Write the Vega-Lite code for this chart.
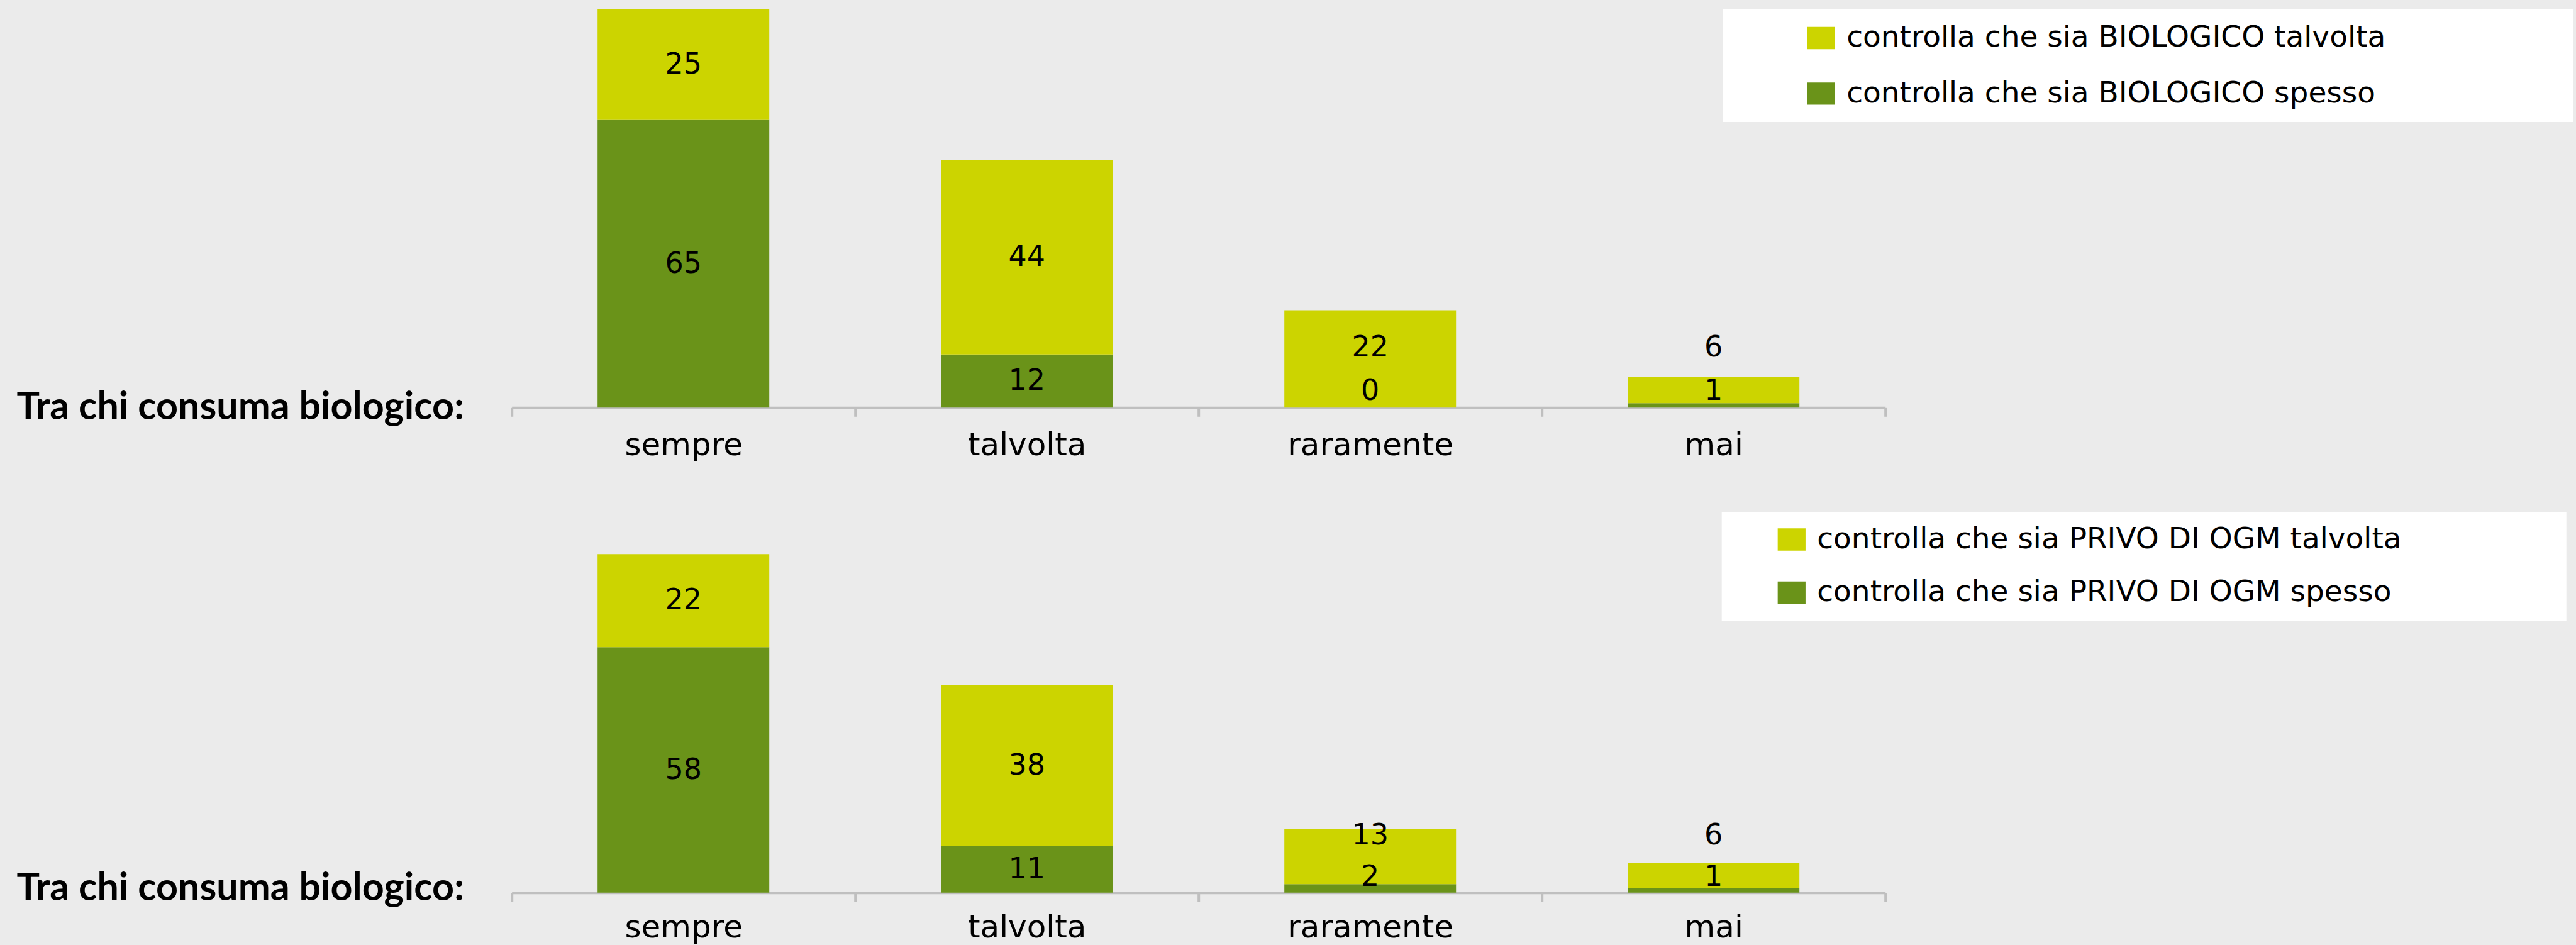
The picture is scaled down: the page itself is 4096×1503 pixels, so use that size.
{
  "$schema": "https://vega.github.io/schema/vega-lite/v6.json",
  "background": "#EBEBEB",
  "padding": {"left": 25.7, "top": 14.9, "right": 20, "bottom": 2},
  "bounds": "flush",
  "spacing": 232.4,
  "config": {
    "view": {"stroke": null},
    "axisX": {
      "title": null, "labelAngle": 0, "domainColor": "#BFBFBF", "domainWidth": 4,
      "tickColor": "#BFBFBF", "tickWidth": 4, "tickSize": 14, "tickBand": "extent",
      "labelFont": "DejaVu Sans", "labelFontSize": 50, "labelColor": "#000000", "labelLimit": 1000,
      "labelBaseline": "alphabetic", "grid": false, "zindex": 1
    },
    "legend": {
      "orient": "none", "title": null, "fillColor": "#FFFFFF",
      "labelFont": "DejaVu Sans", "labelFontSize": 47, "labelColor": "#000000",
      "labelLimit": 3000, "labelOffset": 17,
      "symbolType": "M-1.25,-1L1.25,-1L1.25,1L-1.25,1Z", "symbolSize": 1253,
      "symbolStrokeWidth": 0, "symbolOpacity": 1
    }
  },
  "resolve": {"scale": {"color": "independent", "y": "independent"}, "legend": {"color": "independent"}},
  "vconcat": [
    {
      "width": 2184, "height": 633.4,
      "data": {"values": [
        {"cat": "sempre", "series": "controlla che sia BIOLOGICO spesso", "value": 65},
        {"cat": "sempre", "series": "controlla che sia BIOLOGICO talvolta", "value": 25},
        {"cat": "talvolta", "series": "controlla che sia BIOLOGICO spesso", "value": 12},
        {"cat": "talvolta", "series": "controlla che sia BIOLOGICO talvolta", "value": 44},
        {"cat": "raramente", "series": "controlla che sia BIOLOGICO spesso", "value": 0},
        {"cat": "raramente", "series": "controlla che sia BIOLOGICO talvolta", "value": 22},
        {"cat": "mai", "series": "controlla che sia BIOLOGICO spesso", "value": 1},
        {"cat": "mai", "series": "controlla che sia BIOLOGICO talvolta", "value": 6}
      ]},
      "transform": [
        {"calculate": "indexof(datum.series, 'spesso') >= 0 ? datum.value : 0", "as": "sp"},
        {"joinaggregate": [{"op": "sum", "field": "sp", "as": "spv"}], "groupby": ["cat"]},
        {"calculate": "indexof(datum.series, 'spesso') >= 0 ? max(datum.value / 2, 3.7) : max(datum.spv + datum.value / 2, max(datum.spv / 2, 3.7) + 9.8)", "as": "lab"}
      ],
      "encoding": {
        "x": {"field": "cat", "type": "nominal", "sort": ["sempre", "talvolta", "raramente", "mai"],
              "scale": {"paddingInner": 0, "paddingOuter": 0},
              "axis": {"labelPadding": 61}}
      },
      "layer": [
        {
          "mark": {"type": "bar", "strokeWidth": 0, "width": {"band": 0.5}},
          "encoding": {
            "y": {"field": "value", "type": "quantitative", "stack": "zero",
                  "scale": {"domain": [0, 90], "nice": false},
                  "axis": {"title": "Tra chi consuma biologico:", "titleAngle": 0, "titleAlign": "left",
                           "titleBaseline": "alphabetic", "titleX": -787.7, "titleY": 652,
                           "titleFont": "Lato", "titleFontWeight": "bold", "titleFontSize": 61,
                           "titleColor": "#000000", "titleLimit": 3000,
                           "labels": false, "ticks": false, "domain": false, "grid": false}},
            "color": {"field": "series", "type": "nominal",
                      "scale": {"domain": ["controlla che sia BIOLOGICO talvolta", "controlla che sia BIOLOGICO spesso"],
                                "range": ["#CCD400", "#6A9319"]},
                      "legend": {"legendX": 1926, "legendY": 0.1, "padding": 22, "rowPadding": 40.4,
                                 "symbolOffset": 110.5,
                                 "labelExpr": "datum.label + '\u2800\u2800\u2800\u2800\u2800\u2800\u2800\u2800'"}},
            "order": {"field": "series", "sort": "ascending"}
          }
        },
        {
          "mark": {"type": "text", "font": "DejaVu Sans", "fontSize": 46, "color": "#000000", "baseline": "middle", "align": "center"},
          "encoding": {
            "y": {"field": "lab", "type": "quantitative",
                  "scale": {"domain": [0, 90], "nice": false},
                  "axis": {"title": "Tra chi consuma biologico:", "titleAngle": 0, "titleAlign": "left",
                           "titleBaseline": "alphabetic", "titleX": -787.7, "titleY": 652,
                           "titleFont": "Lato", "titleFontWeight": "bold", "titleFontSize": 61,
                           "titleColor": "#000000", "titleLimit": 3000,
                           "labels": false, "ticks": false, "domain": false, "grid": false}},
            "text": {"field": "value", "type": "quantitative"}
          }
        }
      ]
    },
    {
      "width": 2184, "height": 538.4,
      "data": {"values": [
        {"cat": "sempre", "series": "controlla che sia PRIVO DI OGM spesso", "value": 58},
        {"cat": "sempre", "series": "controlla che sia PRIVO DI OGM talvolta", "value": 22},
        {"cat": "talvolta", "series": "controlla che sia PRIVO DI OGM spesso", "value": 11},
        {"cat": "talvolta", "series": "controlla che sia PRIVO DI OGM talvolta", "value": 38},
        {"cat": "raramente", "series": "controlla che sia PRIVO DI OGM spesso", "value": 2},
        {"cat": "raramente", "series": "controlla che sia PRIVO DI OGM talvolta", "value": 13},
        {"cat": "mai", "series": "controlla che sia PRIVO DI OGM spesso", "value": 1},
        {"cat": "mai", "series": "controlla che sia PRIVO DI OGM talvolta", "value": 6}
      ]},
      "transform": [
        {"calculate": "indexof(datum.series, 'spesso') >= 0 ? datum.value : 0", "as": "sp"},
        {"joinaggregate": [{"op": "sum", "field": "sp", "as": "spv"}], "groupby": ["cat"]},
        {"calculate": "indexof(datum.series, 'spesso') >= 0 ? max(datum.value / 2, 3.7) : max(datum.spv + datum.value / 2, max(datum.spv / 2, 3.7) + 9.8)", "as": "lab"}
      ],
      "encoding": {
        "x": {"field": "cat", "type": "nominal", "sort": ["sempre", "talvolta", "raramente", "mai"],
              "scale": {"paddingInner": 0, "paddingOuter": 0},
              "axis": {"labelPadding": 57}}
      },
      "layer": [
        {
          "mark": {"type": "bar", "strokeWidth": 0, "width": {"band": 0.5}},
          "encoding": {
            "y": {"field": "value", "type": "quantitative", "stack": "zero",
                  "scale": {"domain": [0, 80], "nice": false},
                  "axis": {"title": "Tra chi consuma biologico:", "titleAngle": 0, "titleAlign": "left",
                           "titleBaseline": "alphabetic", "titleX": -787.7, "titleY": 550.4,
                           "titleFont": "Lato", "titleFontWeight": "bold", "titleFontSize": 61,
                           "titleColor": "#000000", "titleLimit": 3000,
                           "labels": false, "ticks": false, "domain": false, "grid": false}},
            "color": {"field": "series", "type": "nominal",
                      "scale": {"domain": ["controlla che sia PRIVO DI OGM talvolta", "controlla che sia PRIVO DI OGM spesso"],
                                "range": ["#CCD400", "#6A9319"]},
                      "legend": {"legendX": 1924, "legendY": -67.4, "padding": 20.6, "rowPadding": 36.5,
                                 "symbolOffset": 67,
                                 "labelExpr": "datum.label + '\u2800\u2800\u2800\u2800\u2800\u2800\u2800'"}},
            "order": {"field": "series", "sort": "ascending"}
          }
        },
        {
          "mark": {"type": "text", "font": "DejaVu Sans", "fontSize": 46, "color": "#000000", "baseline": "middle", "align": "center"},
          "encoding": {
            "y": {"field": "lab", "type": "quantitative",
                  "scale": {"domain": [0, 80], "nice": false},
                  "axis": {"title": "Tra chi consuma biologico:", "titleAngle": 0, "titleAlign": "left",
                           "titleBaseline": "alphabetic", "titleX": -787.7, "titleY": 550.4,
                           "titleFont": "Lato", "titleFontWeight": "bold", "titleFontSize": 61,
                           "titleColor": "#000000", "titleLimit": 3000,
                           "labels": false, "ticks": false, "domain": false, "grid": false}},
            "text": {"field": "value", "type": "quantitative"}
          }
        }
      ]
    }
  ]
}
